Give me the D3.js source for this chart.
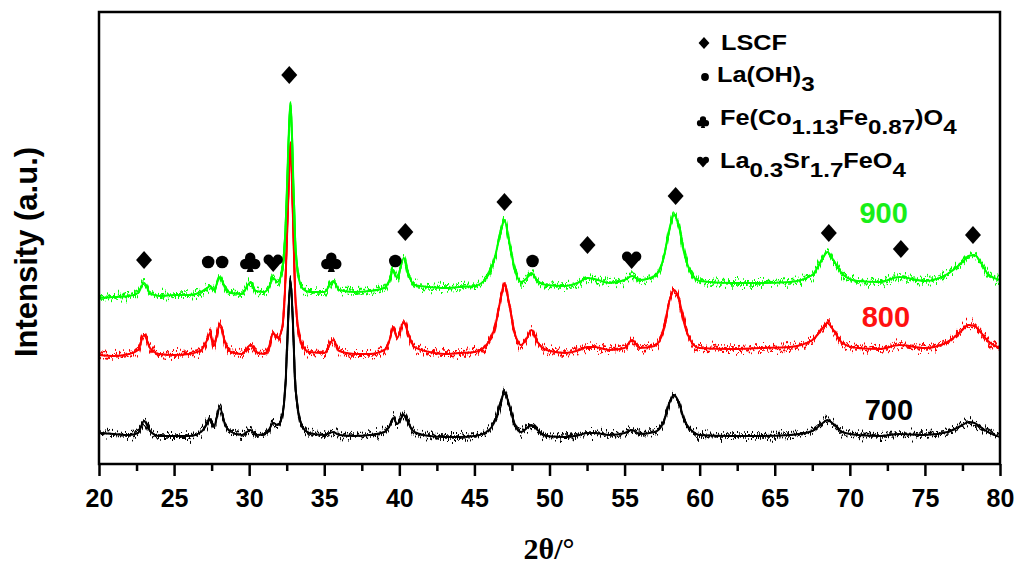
<!DOCTYPE html>
<html>
<head>
<meta charset="utf-8">
<script src="https://cdn.jsdelivr.net/npm/d3@7"></script>
<style>
  body { margin: 0; background: #fff; }
  svg { display: block; }
</style>
</head>
<body>
<svg id="chart" width="1017" height="566"></svg>
<script>
// ---- XRD patterns of samples calcined at 700, 800 and 900 °C ----
const twoTheta = [20, 21, 22, 22.6, 23.0, 23.4, 24, 25, 26, 26.8,
  27.2, 27.4, 27.65, 28.05, 28.4, 28.8, 29.5, 30.1, 30.45, 31,
  31.3, 31.6, 31.9, 32.2, 32.45, 32.6, 32.75, 32.9, 33.05, 33.3,
  33.6, 34, 35, 35.6, 36, 37, 38, 39, 39.35, 39.6,
  39.85, 40.3, 40.6, 41, 42, 43, 44, 45, 45.8, 46.4,
  46.8, 47.0, 47.3, 47.7, 48.1, 48.5, 48.8, 49.2, 49.8, 51,
  52, 52.5, 53, 54, 55, 55.5, 56, 57, 57.6, 58.0,
  58.3, 58.6, 59, 59.5, 60, 62, 64, 66, 67.5, 68.2,
  68.5, 68.9, 69.5, 70.5, 72, 73.3, 75, 76.5, 77.5, 77.9,
  78.3, 78.7, 79.2, 80];

const intensity700 = [30, 29, 28, 30, 42, 32, 27, 27, 27, 31,
  39, 44, 37, 55, 38, 31, 28, 33, 28, 29,
  33, 40, 38, 47, 88, 145, 183, 145, 85, 49,
  35, 30, 28, 31, 28, 27, 28, 31, 37, 45,
  39, 48, 40, 31, 27, 26, 26, 27, 31, 43,
  63, 71, 59, 38, 31, 35, 38, 33, 27, 26,
  28, 30, 30, 28, 30, 33, 29, 31, 41, 61,
  68, 61, 42, 32, 28, 27, 27, 28, 32, 40,
  43, 39, 31, 28, 27, 29, 28, 31, 38, 41,
  40, 36, 31, 26];

const intensity800 = [108, 107, 109, 113, 128, 115, 109, 108, 109, 113,
  123, 130, 117, 139, 120, 111, 109, 118, 111, 109,
  115, 130, 125, 135, 195, 263, 320, 255, 175, 130,
  116, 111, 110, 123, 112, 109, 109, 113, 123, 136,
  125, 141, 129, 116, 111, 109, 110, 111, 118, 138,
  168, 180, 160, 129, 118, 125, 133, 121, 113, 110,
  113, 116, 116, 113, 115, 123, 115, 117, 133, 163,
  173, 165, 138, 120, 115, 114, 115, 116, 123, 135,
  140, 133, 120, 115, 114, 118, 115, 121, 133, 138,
  137, 131, 122, 115];

const intensity900 = [165, 166, 167, 170, 180, 170, 167, 168, 168, 171,
  175, 177, 173, 186, 175, 170, 169, 181, 172, 171,
  175, 185, 181, 193, 245, 313, 361, 303, 228, 185,
  174, 171, 171, 182, 173, 171, 172, 175, 183, 193,
  185, 205, 189, 178, 176, 175, 176, 177, 185, 208,
  235, 243, 223, 193, 181, 185, 190, 182, 178, 177,
  181, 185, 184, 180, 183, 187, 183, 187, 205, 235,
  248, 238, 208, 188, 182, 180, 180, 181, 188, 205,
  211, 203, 189, 182, 181, 186, 182, 189, 201, 207,
  208, 201, 189, 183];

const seriesNames = ["700", "800", "900"];
const seriesValues = [intensity700, intensity800, intensity900];

// phase assignments of the reflections
const markTheta = [23.0, 27.27, 28.2, 30.07, 31.6, 32.67, 35.47, 39.73, 40.4,
  47.0, 48.87, 52.53, 55.47, 58.4, 68.6, 73.4, 78.2];
const markPhase = ["LSCF", "La(OH)3", "La(OH)3", "spinel", "RP", "LSCF", "spinel",
  "La(OH)3", "LSCF", "LSCF", "La(OH)3", "LSCF", "RP", "LSCF", "LSCF", "LSCF", "LSCF"];
const markLevel = [203, 201, 201, 201, 200, 388, 201, 202, 231,
  261, 202, 218, 203, 267, 230, 214, 228];

const xTicks = [20, 25, 30, 35, 40, 45, 50, 55, 60, 65, 70, 75, 80];
const xMinorTicks = [22.5, 27.5, 32.5, 37.5, 42.5, 47.5, 52.5, 57.5, 62.5, 67.5, 72.5, 77.5];

// ---- styling / layout ----
const colors = { "700": "#000000", "800": "#ff0000", "900": "#00ff00" };
const labelColors = { "700": "#000000", "800": "#ff1010", "900": "#18ee18" };
const labelAt = { "700": [72.6, 43], "800": [72.4, 136], "900": [72.25, 240] };
const symbolOf = { "LSCF": "diamond", "La(OH)3": "circle", "spinel": "club", "RP": "heart" };

const svg = d3.select("#chart");
const W = 1017, H = 566;
const plot = { left: 99, right: 1000, top: 12, bottom: 464 };

const x = d3.scaleLinear().domain([20, 80]).range([plot.left, plot.right]);
const y = d3.scaleLinear().domain([0, 451]).range([463, 12]);

// grain filters: vertical jitter imitating counting noise
const defs = svg.append("defs");
function addGrain(id, seed, freq, scale) {
  const f = defs.append("filter").attr("id", id)
    .attr("filterUnits", "userSpaceOnUse")
    .attr("x", 0).attr("y", 0).attr("width", W).attr("height", H)
    .attr("color-interpolation-filters", "sRGB");
  f.append("feTurbulence").attr("type", "fractalNoise")
    .attr("baseFrequency", freq).attr("numOctaves", 2).attr("seed", seed).attr("result", "noise");
  f.append("feColorMatrix").attr("in", "noise").attr("type", "matrix")
    .attr("values", "0 0 0 0 0.5  0 1.6 0 0 -0.3  0 0 0 0 0  0 0 0 0 1").attr("result", "map");
  f.append("feDisplacementMap").attr("in", "SourceGraphic").attr("in2", "map")
    .attr("scale", scale).attr("xChannelSelector", "R").attr("yChannelSelector", "G");
}
addGrain("grainA", 11, "0.8 0.03", 14);
addGrain("grainB", 29, "0.6 0.05", 11);

defs.append("clipPath").attr("id", "plotClip").append("rect")
  .attr("x", plot.left).attr("y", plot.top)
  .attr("width", plot.right - plot.left).attr("height", plot.bottom - plot.top);

// patterns
const line = d3.line()
  .x((d, i) => x(twoTheta[i]))
  .y(d => y(d))
  .curve(d3.curveMonotoneX);

const curves = svg.append("g").attr("clip-path", "url(#plotClip)");
seriesNames.forEach((name, k) => {
  const g = curves.append("g");
  const d = line(seriesValues[k]);
  g.append("path").attr("d", d)
    .attr("fill", "none").attr("stroke", colors[name]).attr("stroke-width", 2);
  g.append("path").attr("d", d)
    .attr("fill", "none").attr("stroke", colors[name]).attr("stroke-width", 1.8)
    .attr("filter", "url(#grainA)");
  g.append("path").attr("d", d)
    .attr("fill", "none").attr("stroke", colors[name]).attr("stroke-width", 1.6)
    .attr("filter", "url(#grainB)");
});

// phase symbols (all sub-shapes wound clockwise so overlaps stay filled)
function symbolPath(kind, s) {
  const p = d3.path();
  const circ = (cx, cy, r) => { p.moveTo((cx + r) * s, cy * s); p.arc(cx * s, cy * s, r * s, 0, 2 * Math.PI); };
  if (kind === "diamond") {
    p.moveTo(0, -9 * s); p.lineTo(8 * s, 0); p.lineTo(0, 9 * s); p.lineTo(-8 * s, 0); p.closePath();
  } else if (kind === "circle") {
    circ(0, 0, 6.3);
  } else if (kind === "club") {
    circ(0, -4.4, 5.2); circ(-5.0, 2.0, 5.2); circ(5.0, 2.0, 5.2);
    p.moveTo(0, 0); p.lineTo(3.6 * s, 10 * s); p.lineTo(-3.6 * s, 10 * s); p.closePath();
  } else if (kind === "heart") {
    circ(-4.7, -3.4, 5); circ(4.7, -3.4, 5);
    p.moveTo(-9.5 * s, -2 * s); p.lineTo(0, -3 * s); p.lineTo(9.5 * s, -2 * s); p.lineTo(0, 9 * s); p.closePath();
  }
  return p.toString();
}

svg.append("g").selectAll("path")
  .data(markTheta)
  .join("path")
  .attr("transform", (d, i) => `translate(${x(d)},${y(markLevel[i])})`)
  .attr("d", (d, i) => symbolPath(symbolOf[markPhase[i]], 1))
  .attr("fill", "#000");

// series labels
svg.append("g").selectAll("text")
  .data(seriesNames)
  .join("text")
  .attr("x", d => x(labelAt[d][0]))
  .attr("y", d => y(labelAt[d][1]))
  .attr("text-anchor", "middle")
  .attr("font-family", "Liberation Sans, Arial, sans-serif")
  .attr("font-weight", "bold")
  .attr("font-size", 29)
  .attr("fill", d => labelColors[d])
  .text(d => d);

// legend
const legendRows = [
  { kind: "diamond", sx: 704, sy: 43, ss: 0.68, tx: 721, ty: 50, parts: [["LSCF", 0]] },
  { kind: "circle", sx: 705, sy: 77, ss: 0.62, tx: 717, ty: 82, parts: [["La(OH)", 0], ["3", 1]] },
  { kind: "club", sx: 703, sy: 122, ss: 0.6, tx: 720, ty: 125,
    parts: [["Fe(Co", 0], ["1.13", 1], ["Fe", 0], ["0.87", 1], [")O", 0], ["4", 1]] },
  { kind: "heart", sx: 703, sy: 162, ss: 0.62, tx: 720, ty: 168,
    parts: [["La", 0], ["0.3", 1], ["Sr", 0], ["1.7", 1], ["FeO", 0], ["4", 1]] }
];
const legend = svg.append("g");
legendRows.forEach(r => {
  legend.append("path").attr("transform", `translate(${r.sx},${r.sy})`)
    .attr("d", symbolPath(r.kind, r.ss)).attr("fill", "#000");
  const t = legend.append("g").attr("transform", `translate(${r.tx},${r.ty}) scale(1.15,1)`)
    .append("text")
    .attr("font-family", "Liberation Sans, Arial, sans-serif")
    .attr("font-weight", "bold").attr("font-size", 22).attr("fill", "#000");
  let lvl = 0;
  r.parts.forEach(([s, sub]) => {
    const dy = (sub - lvl) * 9;
    lvl = sub;
    t.append("tspan").attr("dy", dy).attr("font-size", sub ? 21 : 22).text(s);
  });
});

// frame
svg.append("rect")
  .attr("x", plot.left).attr("y", plot.top)
  .attr("width", plot.right - plot.left).attr("height", plot.bottom - plot.top)
  .attr("fill", "none").attr("stroke", "#000").attr("stroke-width", 2.5);

// x axis
const axisMajor = svg.append("g").attr("transform", `translate(0,${plot.bottom})`)
  .call(d3.axisBottom(x).tickValues(xTicks).tickSize(12).tickPadding(13).tickSizeOuter(0).tickFormat(d3.format("d")));
const axisMinor = svg.append("g").attr("transform", `translate(0,${plot.bottom})`)
  .call(d3.axisBottom(x).tickValues(xMinorTicks).tickSize(7).tickSizeOuter(0).tickFormat(""));
[axisMajor, axisMinor].forEach(a => {
  a.select(".domain").remove();
  a.selectAll(".tick line").attr("stroke", "#000").attr("stroke-width", 2.5);
});
axisMajor.selectAll(".tick text")
  .attr("font-family", "Liberation Sans, Arial, sans-serif")
  .attr("font-weight", "bold").attr("font-size", 25).attr("fill", "#000");

// axis titles
svg.append("text")
  .attr("x", 549).attr("y", 559)
  .attr("text-anchor", "middle")
  .attr("font-family", "Liberation Serif, Times New Roman, serif")
  .attr("font-weight", "bold").attr("font-size", 30)
  .text("2θ/°");

svg.append("text")
  .attr("transform", "translate(37,252) rotate(-90)")
  .attr("text-anchor", "middle")
  .attr("font-family", "Liberation Sans, Arial, sans-serif")
  .attr("font-weight", "bold").attr("font-size", 31)
  .text("Intensity (a.u.)");
</script>
</body>
</html>
